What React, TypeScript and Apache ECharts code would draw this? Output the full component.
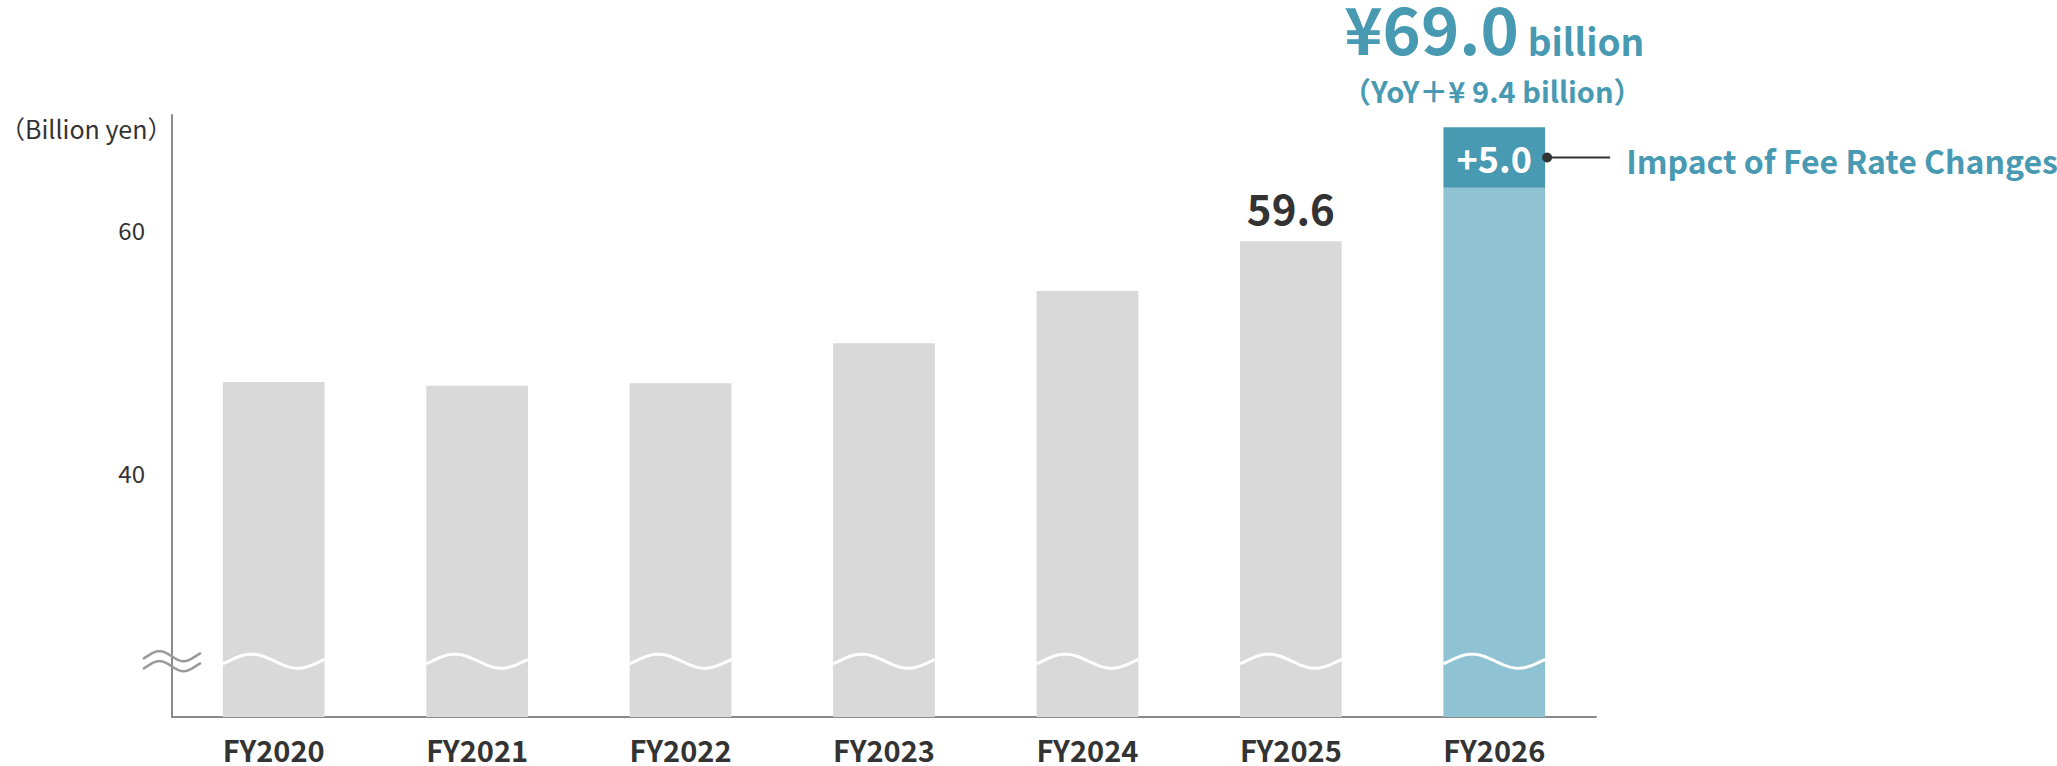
import React, { useEffect, useRef } from "react";
import * as echarts from "echarts";

// ---- data ----
const categories = ["FY2020", "FY2021", "FY2022", "FY2023", "FY2024", "FY2025", "FY2026"];
const baseValues = [48.0, 47.7, 47.9, 51.2, 55.5, 59.6, 64.0];
const feeImpact = [null, null, null, null, null, null, 5.0];
const yTickLabels = [40, 60];
const breakValue = 25;
const yMin = 20.4;
const yMax = 70;
const labelledIndex = 5;
const unitLabel = "（Billion yen）";
const calloutText = "Impact of Fee Rate Changes";

// ---- styles ----
const GRAY = "#D9D9D9";
const TEAL_LIGHT = "#8FC3D3";
const TEAL_DARK = "#4899B2";
const TEXT = "#333333";
const AXIS = "#8A8A8A";
const FONT = '"Noto Sans CJK JP", "Noto Sans", sans-serif';

function measure(text: string, font: string): number {
  const c = document.createElement("canvas");
  const ctx = c.getContext("2d");
  if (!ctx) return text.length * 20;
  ctx.font = font;
  return ctx.measureText(text).width;
}

export default function App() {
  const ref = useRef<HTMLDivElement>(null);

  useEffect(() => {
    document.body.style.margin = "0";
    if (!ref.current) return;
    const chart = echarts.init(ref.current, undefined, { renderer: "svg" });

    const last = categories.length - 1;
    const total = +(baseValues[last] + (feeImpact[last] as number)).toFixed(1);
    const yoy = +(total - baseValues[last - 1]).toFixed(1);
    const mainText = `¥${total.toFixed(1)}`;
    const unitText = "billion";
    const subText = `（YoY＋¥ ${yoy.toFixed(1)} billion）`;
    const mainFont = `bold 65px ${FONT}`;
    const unitFont = `bold 37px ${FONT}`;
    const gapW = 9;
    const mainW = measure(mainText, mainFont);
    const unitW = measure(unitText, unitFont);

    const wave = (x0: number, w: number, c: number, amp: number, freq: number, phase: number) => {
      const pts: number[][] = [];
      const n = 48;
      for (let k = 0; k <= n; k++) {
        const t = k / n;
        pts.push([x0 + t * w, c - amp * Math.sin(2 * Math.PI * (freq * t - phase))]);
      }
      return pts;
    };

    const renderItem = (params: any, api: any) => {
      const i = api.value(0);
      const [cx, cy] = api.coord([i, breakValue]);
      const band = api.size([1, 0])[0];
      const w = band * 0.5;
      const x0 = cx - w / 2;
      const children: any[] = [
        {
          type: "polyline",
          shape: { points: wave(x0, w, cy, 7, 1.1, 0.06) },
          style: { stroke: "#ffffff", lineWidth: 3, fill: "none" },
        },
      ];
      if (i === 0) {
        const gl = cx - band / 2;
        children.push(
          {
            type: "polyline",
            shape: { points: wave(gl - 29, 58, cy - 5, 5, 1.2, 0.09) },
            style: { stroke: "#9A9A9A", lineWidth: 2.5, fill: "none" },
          },
          {
            type: "polyline",
            shape: { points: wave(gl - 29, 58, cy + 5, 5, 1.2, 0.09) },
            style: { stroke: "#9A9A9A", lineWidth: 2.5, fill: "none" },
          }
        );
      }
      if (i === last) {
        const fee = feeImpact[last] as number;
        const [, by] = api.coord([i, baseValues[last] + fee / 2]);
        const right = cx + w / 2;
        children.push(
          {
            type: "line",
            shape: { x1: right + 2, y1: by, x2: right + 65, y2: by },
            style: { stroke: TEXT, lineWidth: 2 },
          },
          { type: "circle", shape: { cx: right + 2, cy: by, r: 5 }, style: { fill: TEXT } },
          {
            type: "text",
            x: right + 81,
            y: by + 3,
            style: {
              text: calloutText,
              fill: TEAL_DARK,
              font: `bold 32px ${FONT}`,
              align: "left",
              verticalAlign: "middle",
            },
          }
        );
        const [, ty] = api.coord([i, total]);
        const totalW = mainW + gapW + unitW;
        const left = cx - totalW / 2;
        children.push(
          {
            type: "text",
            x: left,
            y: ty - 100,
            style: { text: mainText, fill: TEAL_DARK, font: mainFont, align: "left", verticalAlign: "middle" },
          },
          {
            type: "text",
            x: left + mainW + gapW,
            y: ty - 87,
            style: { text: unitText, fill: TEAL_DARK, font: unitFont, align: "left", verticalAlign: "middle" },
          },
          {
            type: "text",
            x: cx - 2,
            y: ty - 37,
            style: {
              text: subText,
              fill: TEAL_DARK,
              font: `bold 29px ${FONT}`,
              align: "center",
              verticalAlign: "middle",
            },
          }
        );
      }
      return { type: "group", children };
    };

    chart.setOption({
      animation: false,
      textStyle: { fontFamily: FONT },
      grid: { left: 172, right: 461, top: 115, bottom: 49, containLabel: false },
      graphic: [
        {
          type: "text",
          x: 0,
          y: 128,
          style: { text: unitLabel, fill: TEXT, font: `25px ${FONT}`, verticalAlign: "middle" },
        },
      ],
      xAxis: {
        type: "category",
        data: categories,
        axisLine: { lineStyle: { color: AXIS, width: 2 } },
        axisTick: { show: false },
        axisLabel: { color: TEXT, fontSize: 29, fontWeight: "bold", margin: 17, fontFamily: FONT },
      },
      yAxis: {
        type: "value",
        min: yMin,
        max: yMax,
        axisLine: { show: true, lineStyle: { color: AXIS, width: 2 } },
        axisTick: { show: false },
        splitLine: { show: false },
        axisLabel: {
          color: TEXT,
          fontSize: 24,
          margin: 27,
          verticalAlign: "bottom",
          lineHeight: 14,
          fontFamily: FONT,
          customValues: yTickLabels,
        },
      },
      series: [
        {
          type: "bar",
          stack: "total",
          barWidth: "50%",
          data: baseValues.map((v, i) => ({
            value: v,
            itemStyle: { color: i === last ? TEAL_LIGHT : GRAY },
            label:
              i === labelledIndex
                ? {
                    show: true,
                    position: "top",
                    distance: 14,
                    color: TEXT,
                    fontSize: 42,
                    fontWeight: "bold",
                    fontFamily: FONT,
                    formatter: (p: any) => Number(p.value).toFixed(1),
                  }
                : { show: false },
          })),
        },
        {
          type: "bar",
          stack: "total",
          barWidth: "50%",
          data: feeImpact,
          itemStyle: { color: TEAL_DARK },
          label: {
            show: true,
            position: "inside",
            color: "#ffffff",
            fontSize: 36,
            fontWeight: "bold",
            fontFamily: FONT,
            formatter: (p: any) => "+" + Number(p.value).toFixed(1),
          },
        },
        {
          type: "custom",
          clip: false,
          z: 10,
          data: categories.map((_, i) => [i, breakValue]),
          encode: { x: 0, y: 1 },
          renderItem,
        },
      ],
    });

    return () => chart.dispose();
  }, []);

  return <div ref={ref} style={{ width: 2057, height: 766 }} />;
}
